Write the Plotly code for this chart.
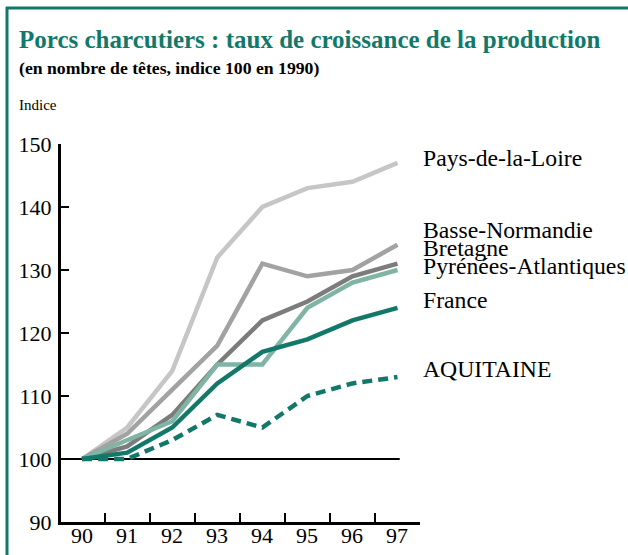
import plotly.graph_objects as go

years = [90, 91, 92, 93, 94, 95, 96, 97]
pays_de_la_loire = [100, 105, 114, 132, 140, 143, 144, 147]
basse_normandie = [100, 104, 111, 118, 131, 129, 130, 134]
bretagne = [100, 102, 107, 115, 122, 125, 129, 131]
pyrenees_atl = [100, 103, 106, 115, 115, 124, 128, 130]
france = [100, 101, 105, 112, 117, 119, 122, 124]
aquitaine = [100, 100, 103, 107, 105, 110, 112, 113]

y_ticks = [90, 100, 110, 120, 130, 140, 150]
x_ticklabels = ["90", "91", "92", "93", "94", "95", "96", "97"]

W, H = 628, 555
L, R, T, B = 61, 420, 144, 522
XR = [89.53, 97.5]
YR = [90, 150]

TEAL = "#12796a"
series = [
    ("Pays-de-la-Loire", pays_de_la_loire, "#c6c6c6", "solid"),
    ("Basse-Normandie", basse_normandie, "#a2a2a2", "solid"),
    ("Bretagne", bretagne, "#7c7c7c", "solid"),
    ("Pyrénées-Atlantiques", pyrenees_atl, "#80b4a5", "solid"),
    ("France", france, TEAL, "solid"),
    ("AQUITAINE", aquitaine, TEAL, "10px,6px"),
]

# label centre positions (pixels from top)
label_py = {
    "Pays-de-la-Loire": 158,
    "Basse-Normandie": 230,
    "Bretagne": 248,
    "Pyrénées-Atlantiques": 266,
    "France": 300,
    "AQUITAINE": 369,
}

fig = go.Figure()
for name, vals, col, dash in series:
    fig.add_trace(go.Scatter(x=years, y=vals, mode="lines", name=name,
                             line=dict(color=col, width=4.5, dash=dash),
                             hoverinfo="skip"))

def px2paper_x(px):
    return (px - L) / (R - L)

def px2paper_y(py):
    return (B - py) / (B - T)

FONT = "Liberation Serif"

# series labels
for name, _, _, _ in series:
    fig.add_annotation(x=px2paper_x(421), y=px2paper_y(label_py[name]), xref="paper", yref="paper",
                       text=name, showarrow=False, xanchor="left", yanchor="middle",
                       font=dict(family=FONT, size=23.7, color="black"))

# x labels at integer years
for yv, lab in zip(years, x_ticklabels):
    fig.add_annotation(x=yv, y=px2paper_y(535), xref="x", yref="paper",
                       text=lab, showarrow=False, xanchor="center", yanchor="middle",
                       font=dict(family=FONT, size=22, color="black"))

# title, subtitle, axis title
fig.add_annotation(x=px2paper_x(17), y=px2paper_y(39), xref="paper", yref="paper",
                   text="<b>Porcs charcutiers : taux de croissance de la production</b>",
                   showarrow=False, xanchor="left", yanchor="middle",
                   font=dict(family=FONT, size=25, color=TEAL))
fig.add_annotation(x=px2paper_x(17), y=px2paper_y(68), xref="paper", yref="paper",
                   text="<b>(en nombre de têtes, indice 100 en 1990)</b>",
                   showarrow=False, xanchor="left", yanchor="middle",
                   font=dict(family=FONT, size=17.7, color="black"))
fig.add_annotation(x=px2paper_x(17), y=px2paper_y(105), xref="paper", yref="paper",
                   text="Indice", showarrow=False, xanchor="left", yanchor="middle",
                   font=dict(family=FONT, size=15, color="black"))

# reference line at 100
fig.add_shape(type="line", xref="x", yref="y", x0=XR[0], x1=97.05, y0=100, y1=100,
              line=dict(color="black", width=2), layer="below")

# frame border (top and left)
fig.add_shape(type="line", xref="paper", yref="paper",
              x0=px2paper_x(6), x1=px2paper_x(630), y0=px2paper_y(8), y1=px2paper_y(8),
              line=dict(color=TEAL, width=3))
fig.add_shape(type="line", xref="paper", yref="paper",
              x0=px2paper_x(7), x1=px2paper_x(7), y0=px2paper_y(7), y1=px2paper_y(560),
              line=dict(color=TEAL, width=3))

fig.update_layout(
    width=W, height=H,
    margin=dict(l=L, r=W - R, t=T, b=H - B),
    paper_bgcolor="white", plot_bgcolor="white",
    showlegend=False,
    xaxis=dict(range=XR, showgrid=False, zeroline=False, showline=True,
               linecolor="black", linewidth=3,
               tickvals=[v + 0.5 for v in years], ticktext=["" for _ in years],
               ticks="inside", ticklen=9, tickwidth=1.5, tickcolor="black",
               fixedrange=True),
    yaxis=dict(range=YR, showgrid=False, zeroline=False, showline=True,
               linecolor="black", linewidth=3,
               tickvals=y_ticks, ticktext=[str(v) for v in y_ticks],
               ticks="inside", ticklen=8, tickwidth=2, tickcolor="black",
               tickfont=dict(family=FONT, size=22, color="black"),
               ticklabelstandoff=2, fixedrange=True),
)

fig.write_html("out.html", config={"displayModeBar": False},
               post_script="document.body.style.margin='0';document.body.style.overflow='hidden';")
